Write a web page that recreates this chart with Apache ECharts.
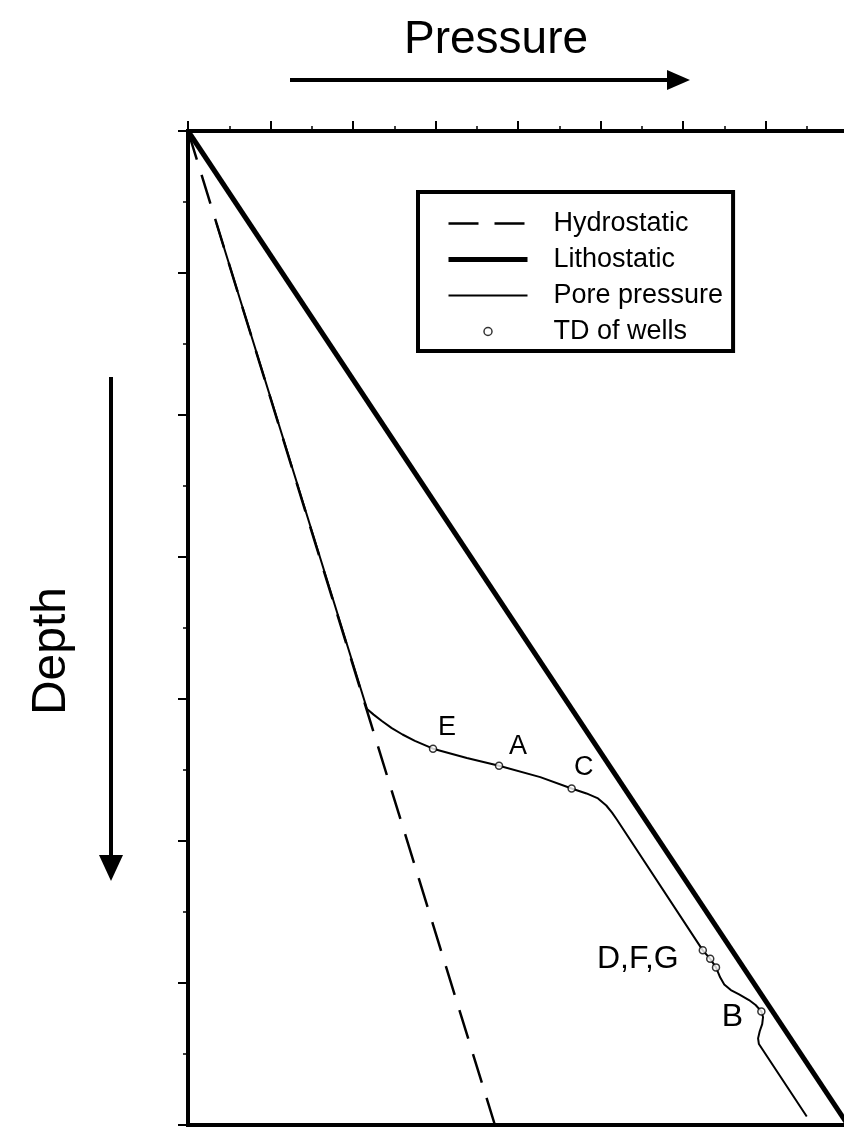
<!DOCTYPE html>
<html>
<head>
<meta charset="utf-8">
<script src="https://cdn.jsdelivr.net/npm/echarts@6/dist/echarts.min.js"></script>
<style>
  html, body { margin: 0; padding: 0; background: #fff; }
  #chart { width: 844px; height: 1128px; }
</style>
</head>
<body>
<div id="chart"></div>
<script>
// ---- data (pressure units along x, depth units along y; arbitrary scale) ----
const hydrostatic = [[0, 0], [3.72, 7]];
const lithostatic = [[0, 0], [8, 7]];
const porePressure = [
  [0.345, 0.65], [2.17, 4.07], [2.25, 4.11], [2.35, 4.155], [2.47, 4.205],
  [2.60, 4.25], [2.75, 4.295], [2.97, 4.35], [3.38, 4.415], [3.77, 4.47],
  [4.27, 4.55], [4.65, 4.63], [4.83, 4.665], [4.97, 4.70], [5.07, 4.75],
  [5.14, 4.80], [5.20, 4.85], [6.24, 5.77], [6.33, 5.83], [6.40, 5.89],
  [6.45, 5.96], [6.50, 6.01], [6.58, 6.05], [6.68, 6.08], [6.80, 6.12],
  [6.88, 6.155], [6.95, 6.20], [6.97, 6.24], [6.96, 6.29], [6.93, 6.34],
  [6.91, 6.39], [6.92, 6.43], [7.50, 6.94]
];
const wellNames = ['E', 'A', 'C', 'D', 'F', 'G', 'B'];
const wellTD = [[2.97, 4.35], [3.77, 4.47], [4.65, 4.63], [6.24, 5.77], [6.33, 5.83], [6.40, 5.89], [6.95, 6.20]];
const wellLabelText = { E: 'E', A: 'A', C: 'C', D: 'D,F,G', F: '', G: '', B: 'B' };
const seriesNames = ['Hydrostatic', 'Lithostatic', 'Pore pressure', 'TD of wells'];
const xAxisTitle = 'Pressure';
const yAxisTitle = 'Depth';

// ---- styles ----
const FONT = '"Liberation Sans", Arial, Helvetica, sans-serif';
const labelStyle = {
  E: { offset: [14, -21], fontSize: 27 },
  A: { offset: [19, -19], fontSize: 27 },
  C: { offset: [12, -21], fontSize: 27 },
  D: { offset: [-65, 9], fontSize: 32 },
  F: { offset: [0, 0], fontSize: 1 },
  G: { offset: [0, 0], fontSize: 1 },
  B: { offset: [-29, 6], fontSize: 32 }
};

const wellData = wellTD.map((p, i) => {
  const n = wellNames[i];
  const ls = labelStyle[n];
  return {
    name: n,
    value: p,
    label: {
      show: wellLabelText[n] !== '',
      formatter: wellLabelText[n],
      position: 'inside',
      offset: ls.offset,
      fontSize: ls.fontSize,
      color: '#000',
      opacity: 1,
      textBorderWidth: 0
    }
  };
});

const chart = echarts.init(document.getElementById('chart'), null, { renderer: 'canvas' });

chart.setOption({
  backgroundColor: '#fff',
  animation: false,
  textStyle: { fontFamily: FONT, color: '#000' },
  grid: {
    left: 188, top: 131, width: 660, height: 994,
    containLabel: false, outerBoundsMode: 'none',
    show: true, borderColor: '#000', borderWidth: 4, backgroundColor: '#fff'
  },
  xAxis: {
    type: 'value', position: 'top', min: 0, max: 8, interval: 1,
    axisLine: { show: true, onZero: false, lineStyle: { color: '#000', width: 3.5 } },
    axisTick: { show: true, inside: false, length: 10, lineStyle: { color: '#000', width: 2 } },
    minorTick: { show: true, splitNumber: 2, length: 5, lineStyle: { color: '#000', width: 1.5 } },
    axisLabel: { show: false },
    splitLine: { show: false },
    minorSplitLine: { show: false }
  },
  yAxis: {
    type: 'value', inverse: true, min: 0, max: 7, interval: 1,
    axisLine: { show: true, onZero: false, lineStyle: { color: '#000', width: 4 } },
    axisTick: { show: true, inside: false, length: 10, lineStyle: { color: '#000', width: 2 } },
    minorTick: { show: true, splitNumber: 2, length: 5, lineStyle: { color: '#000', width: 1.5 } },
    axisLabel: { show: false },
    splitLine: { show: false },
    minorSplitLine: { show: false }
  },
  legend: {
    orient: 'vertical',
    left: 418, top: 192,
    itemWidth: 79, itemHeight: 8, itemGap: 9,
    padding: [18, 10, 6, 28],
    borderColor: '#000', borderWidth: 4, backgroundColor: '#fff',
    selectedMode: false,
    textStyle: { fontSize: 27, color: '#000', fontFamily: FONT, lineHeight: 27, padding: [0, 0, 0, 21] },
    data: [
      { name: seriesNames[0], itemStyle: { opacity: 0 }, lineStyle: { width: 2.5, type: [30, 16], color: '#000' } },
      { name: seriesNames[1], itemStyle: { opacity: 0 }, lineStyle: { width: 5, color: '#000' } },
      { name: seriesNames[2], itemStyle: { opacity: 0 }, lineStyle: { width: 2, color: '#000' } },
      { name: seriesNames[3], icon: 'circle', itemStyle: { color: '#fff', borderColor: '#000', borderWidth: 1.5 } }
    ]
  },
  graphic: [
    { type: 'text', x: 496, y: 40, style: { text: xAxisTitle, font: '46px ' + FONT, fill: '#000', textAlign: 'center', textVerticalAlign: 'middle' } },
    { type: 'line', shape: { x1: 290, y1: 80, x2: 672, y2: 80 }, style: { stroke: '#000', lineWidth: 4 } },
    { type: 'polygon', shape: { points: [[667, 70], [690, 80], [667, 90]] }, style: { fill: '#000' } },
    { type: 'text', x: 52, y: 651, rotation: Math.PI / 2, style: { text: yAxisTitle, font: '48px ' + FONT, fill: '#000', textAlign: 'center', textVerticalAlign: 'middle' } },
    { type: 'line', shape: { x1: 111, y1: 377, x2: 111, y2: 860 }, style: { stroke: '#000', lineWidth: 4 } },
    { type: 'polygon', shape: { points: [[99, 855], [123, 855], [111, 881]] }, style: { fill: '#000' } }
  ],
  series: [
    {
      name: seriesNames[0], type: 'line', data: hydrostatic, symbol: 'none', z: 2,
      lineStyle: { color: '#000', width: 2.5, type: [30, 16] }, itemStyle: { color: '#000' }
    },
    {
      name: seriesNames[1], type: 'line', data: lithostatic, symbol: 'none', z: 3,
      lineStyle: { color: '#000', width: 5 }, itemStyle: { color: '#000' }
    },
    {
      name: seriesNames[2], type: 'line', data: porePressure, symbol: 'none', z: 4,
      smooth: false,
      lineStyle: { color: '#000', width: 2, join: 'round' }, itemStyle: { color: '#000' }
    },
    {
      name: seriesNames[3], type: 'scatter', data: wellData, z: 5,
      symbol: 'circle', symbolSize: 7,
      itemStyle: { color: '#fff', borderColor: '#000', borderWidth: 1.5 },
      label: { color: '#000', fontFamily: FONT, align: 'center', verticalAlign: 'middle', textBorderWidth: 0, textBorderColor: 'transparent' }
    }
  ]
});
</script>
</body>
</html>
